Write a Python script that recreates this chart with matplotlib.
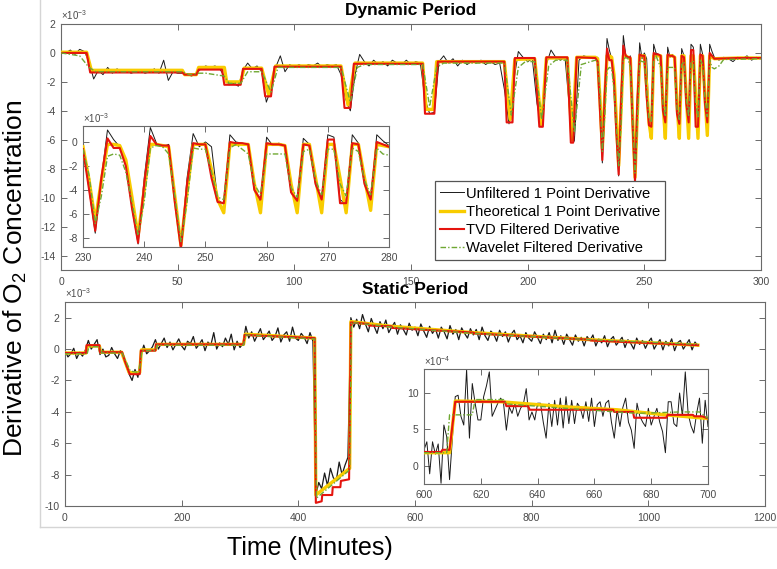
import numpy as np
import matplotlib
matplotlib.use("Agg")
import matplotlib.pyplot as plt
from matplotlib.lines import Line2D

plt.rcParams['font.family'] = ['Liberation Sans', 'DejaVu Sans']
plt.rcParams['mathtext.fontset'] = 'custom'
plt.rcParams['mathtext.rm'] = 'Liberation Sans'
plt.rcParams['mathtext.it'] = 'Liberation Sans:italic'
plt.rcParams['mathtext.bf'] = 'Liberation Sans:bold'
plt.rcParams['axes.unicode_minus'] = False

# ---------------- Dynamic period (values x1e-3) ----------------
# unfiltered, every 2 min from 0 to 228
dyn_unf_t = np.arange(0, 229, 2)
dyn_unf = [0.1, 0.0, 0.2, -0.1, 0.25, 0.1, -0.6, -1.8, -1.2, -1.5,
           -1.0, -1.4, -1.1, -1.3, -1.2, -1.4, -1.3, -1.2, -1.4, -1.3,
           -1.1, -1.4, -0.5, -1.9, -1.3, -1.4, -1.4, -1.5, -1.6, -1.4,
           -1.1, -0.9, -1.0, -0.9, -1.1, -1.6, -2.2, -2.1, -2.3, -1.2,
           -0.7, -1.1, -0.9, -1.3, -3.4, -2.5, -1.0, -0.2, -1.3, -0.8,
           -1.0, -0.8, -1.0, -0.8, -0.9, -0.7, -1.0, -0.8, -0.9, -0.8,
           -1.5, -3.2, -4.0, -1.5, -0.1, -0.6, -0.9, -0.5, -0.8, -0.6,
           -0.9, -0.5, -0.7, -0.8, -0.5, -0.8, -0.6, -0.7, -3.2, -4.2,
           -4.1, -0.6, -0.2, -0.7, -0.4, -0.9, -0.5, -0.8, -0.6, -0.7,
           -0.5, -0.8, -0.6, -0.8, -0.7, -2.5, -4.9, -2.0, 0.1, -0.3,
           -0.6, -0.4, -3.5, -5.1, -0.8, 0.2, -0.3, -0.5, -0.3, -4.0,
           -6.1, -0.5, -0.2, -0.3, -0.4]
dyn_unf_tail_t = np.arange(282, 301, 2)
dyn_unf_tail = [-0.5, -0.3, -0.4, -0.6, -0.3, -0.4, -0.2, -0.5, -0.3, -0.4]

dyn_theo_t = [0, 11, 13, 52, 53, 58, 59, 70, 71, 77, 78.5, 86, 89, 92, 120, 123, 126,
              155, 156.5, 159.5, 161, 190, 192.5, 194.5, 203, 206, 208, 217, 219, 221, 229]
dyn_theo = [0.05, 0.05, -1.2, -1.2, -1.5, -1.5, -1.0, -1.0, -2.0, -2.0, -1.05, -1.05, -2.9,
            -0.9, -0.9, -3.6, -0.7, -0.7, -3.9, -3.9, -0.6, -0.6, -4.6, -0.45, -0.4, -5.0,
            -0.35, -0.35, -6.0, -0.3, -0.3]

dyn_tvd_t = [0, 11, 12.5, 52, 53, 58, 59, 69, 70, 77, 78, 86, 87.5, 90, 91.5, 120, 121.5, 124,
             125.5, 155, 156, 160, 161.5, 190, 191, 193.5, 194.5, 203, 205, 206.5, 208, 217,
             218.5, 219.5, 221, 229]
dyn_tvd = [0.0, 0.0, -1.35, -1.35, -1.5, -1.5, -1.15, -1.15, -2.2, -2.2, -1.1, -1.1, -3.0,
           -3.0, -0.95, -0.95, -3.8, -3.8, -0.75, -0.75, -4.2, -4.2, -0.6, -0.6, -4.8, -4.8,
           -0.35, -0.35, -5.1, -5.1, -0.3, -0.3, -6.2, -6.2, -0.3, -0.35]

dyn_wav_t = [0, 8, 12, 15, 52, 55, 59, 62, 70, 72, 77, 80, 86, 90, 93, 120, 124, 127, 130,
             155, 158, 161, 164, 190, 193, 196, 199, 203, 206, 209, 212, 217, 220, 223, 229]
dyn_wav = [0.0, -0.2, -1.0, -1.3, -1.3, -1.5, -1.4, -1.4, -1.6, -2.1, -2.1, -1.3, -1.3, -2.7,
           -1.0, -1.0, -3.4, -1.0, -0.8, -0.8, -3.7, -1.0, -0.7, -0.7, -4.3, -1.0, -0.6, -0.6,
           -4.6, -0.9, -0.5, -0.5, -5.5, -0.8, -0.5]

tail_t = [290, 300]
dyn_theo_tail = [-0.35, -0.35]
dyn_tvd_tail = [-0.35, -0.35]
dyn_wav_tail_t = [282, 284, 300]
dyn_wav_tail = [-0.9, -0.45, -0.4]

# zoomed window 230-280, one value per minute
zoom_t = np.arange(230, 281)
zoom_unf = [-0.3, -4.0, -7.6, -3.0, 1.0, 0.2, -0.4, -1.8, -5.5, -8.5,
            -3.0, 1.2, -0.1, -0.4, -0.2, -5.0, -8.8, -3.0, 0.7, -0.4,
            0.0, -0.4, -4.8, -5.2, 0.6, 0.0, -0.1, -0.2, -4.0, -5.0,
            0.4, -0.3, -0.1, -0.3, -4.2, -5.0, 0.3, -0.2, -3.5, -5.0,
            0.6, 0.4, -4.8, -5.2, 0.6, -0.1, -3.5, -5.0, 0.6, 0.1, -0.3]
zoom_theo = [-0.4, -3.2, -6.6, -3.2, -0.2, -0.2, -0.3, -1.5, -4.6, -7.8,
             -4.0, -0.2, -0.2, -0.3, -0.4, -4.5, -8.6, -4.2, -0.2, -0.2,
             -0.2, -2.3, -4.8, -5.9, -0.2, -0.2, -0.2, -0.2, -3.5, -5.9,
             -0.2, -0.2, -0.2, -0.3, -3.5, -5.9, -0.2, -0.2, -3.0, -5.9,
             -0.2, -0.2, -3.0, -5.9, -0.2, -0.2, -3.0, -5.7, -0.2, -0.3, -0.4]
zoom_tvd = [-0.6, -4.0, -7.4, -3.0, 0.3, -0.5, -0.5, -2.0, -5.5, -8.4,
            -3.5, 0.5, -0.2, -0.3, -0.3, -5.0, -8.9, -3.5, -0.1, -0.2,
            -0.2, -3.0, -5.0, -5.1, 0.0, -0.1, -0.1, -0.2, -4.0, -4.8,
            -0.1, -0.2, -0.2, -0.3, -4.2, -4.9, -0.2, -0.3, -3.5, -4.8,
            0.2, 0.2, -5.1, -5.1, -0.1, -0.2, -3.5, -4.8, 0.0, -0.2, -0.4]
zoom_wav = [-0.6, -2.8, -6.8, -4.5, -1.2, -1.0, -1.1, -2.5, -5.0, -7.8,
            -5.0, -0.5, -0.3, -0.4, -1.0, -4.5, -8.3, -5.0, -0.5, -0.6,
            -0.6, -2.5, -4.6, -4.8, -0.5, -0.2, -0.6, -1.0, -3.5, -4.4,
            -1.0, -1.0, -1.0, -1.0, -3.8, -4.6, -0.8, -0.6, -3.2, -4.4,
            -0.6, -0.6, -3.5, -4.5, -0.5, -0.8, -3.2, -4.4, -0.5, -1.0, -1.1]

# ---------------- Static period (values x1e-3) ----------------
stat_unf_t = np.arange(0, 1086, 5)
stat_unf = [-0.1, -0.5, -0.3, 0.05, -0.6, -0.2, -0.45, -0.05, 0.55, 0.0,
            0.3, 0.6, -0.35, 0.0, -0.5, -0.4, 0.1, -0.3, -0.6, -0.1,
            -0.5, -1.1, -1.6, -2.0, -1.3, -1.8, -0.4, 0.25, -0.3, -0.1,
            0.15, 0.6, 0.0, 0.35, 0.7, 0.1, 0.45, -0.05, 0.3, 0.65,
            0.2, -0.05, 0.5, 0.35, 0.8, 0.05, 0.3, 0.6, -0.1, 0.45,
            0.25, 1.05, 0.0, 0.4, 0.15, 0.7, 0.3, 0.95, -0.05, 0.5,
            0.1, 0.35, 1.45, 0.7, 1.1, 0.5, 0.9, 1.3, 0.6, 0.85,
            1.15, 0.55, 0.8, 1.35, 0.45, 0.9, 1.1, 0.5, 1.4, 0.7,
            0.55, 1.0, 0.75, 0.35, 1.05, 0.5, -9.3, -8.5, -8.9, -7.9,
            -8.7, -7.6, -8.2, -8.4, -7.2, -8.0, -7.4, -6.9, 2.0, 1.4,
            1.9, 1.3, 2.2, 1.6, 1.1, 1.95, 1.45, 1.0, 1.75, 1.3,
            1.85, 1.05, 1.4, 1.7, 0.95, 1.55, 1.25, 0.9, 1.65, 1.2,
            1.4, 0.85, 1.6, 1.15, 0.75, 1.45, 1.0, 1.3, 0.7, 1.4,
            1.1, 0.65, 1.5, 0.95, 1.25, 0.6, 1.35, 1.0, 0.7, 1.3,
            0.9, 1.25, 0.6, 1.4, 0.85, 0.55, 1.15, 0.95, 0.5, 1.2,
            0.8, 1.1, 0.45, 0.95, 1.2, 0.6, 0.85, 0.4, 1.05, 0.7,
            0.5, 1.1, 0.75, 0.35, 0.95, 0.6, 1.05, 0.4, 1.2, 0.55,
            0.85, 0.3, 0.95, 0.6, 0.25, 0.9, 0.5, 0.75, 0.2, 0.8,
            0.55, 0.9, 0.2, 0.65, 0.4, 0.85, 0.15, 0.6, 0.8, 0.25,
            0.5, 0.75, 0.1, 0.6, 0.35, 0.0, 0.7, 0.3, 0.55, 0.05,
            0.45, 0.7, 0.0, 0.35, 0.6, -0.05, 0.5, 0.2, 0.65, -0.1,
            0.4, 0.55, 0.0, 0.3, 0.6, -0.05, 0.45, 0.2]

stat_theo_t = [0, 36, 38, 59, 61, 97, 110, 128, 131, 155, 157, 306, 309, 428, 430, 488, 490,
               560, 700, 900, 1085]
stat_theo = [-0.25, -0.25, 0.2, 0.2, -0.2, -0.2, -1.5, -1.5, -0.05, -0.05, 0.3, 0.3, 0.95,
             0.7, -9.3, -7.6, 1.75, 1.45, 1.05, 0.6, 0.25]

stat_tvd_t = [0, 36, 37, 59, 60, 98, 103, 111, 128, 130, 155, 156, 306, 308, 428, 430, 440,
              441, 458, 459, 472, 473, 487, 490, 520, 521, 560, 561, 700, 701, 900, 901, 1085]
stat_tvd = [-0.25, -0.25, 0.25, 0.25, -0.2, -0.2, -0.8, -1.6, -1.6, -0.1, -0.1, 0.3, 0.3,
            0.9, 0.7, -9.8, -9.7, -9.3, -9.3, -8.8, -8.8, -8.4, -8.3, 1.7, 1.6, 1.5, 1.45,
            1.35, 1.05, 1.0, 0.6, 0.55, 0.25]

stat_wav_t = [0, 38, 41, 60, 63, 98, 112, 127, 132, 155, 158, 306, 310, 428, 431, 488, 491,
              560, 700, 900, 1085]
stat_wav = [-0.3, -0.3, 0.15, 0.15, -0.25, -0.25, -1.4, -1.5, -0.1, -0.1, 0.25, 0.25, 0.9,
            0.65, -9.5, -7.7, 1.7, 1.4, 1.0, 0.6, 0.3]

# zoomed window 600-700 (values x1e-4)
szoom_t = np.arange(600, 701)
szoom_unf = [2.2, 3.3, -1.1, 3.3, 1.6, 3.0, -2.4, 5.6, 4.0, -1.9,
             3.8, 9.5, 9.7, 6.8, 5.6, 13.2, 3.8, 11.3, 8.6, 6.3,
             6.3, 9.5, 11.0, 12.9, 6.8, 7.7, 8.6, 9.3, 8.6, 4.9,
             8.1, 7.2, 8.6, 6.8, 7.9, 8.5, 10.6, 6.3, 7.4, 6.3,
             8.6, 8.6, 6.0, 3.8, 8.6, 5.4, 9.0, 5.6, 9.3, 5.2,
             9.5, 5.8, 9.0, 5.8, 8.6, 8.0, 6.5, 8.8, 6.1, 9.3,
             5.4, 8.4, 8.8, 6.8, 8.6, 9.0, 6.0, 3.8, 7.7, 5.4,
             8.0, 9.3, 6.0, 4.9, 2.4, 8.6, 6.8, 6.0, 5.4, 7.9,
             5.6, 6.8, 7.9, 6.0, 4.7, 1.8, 8.8, 8.8, 5.8, 5.4,
             10.0, 6.8, 12.9, 7.2, 5.5, 4.5, 7.2, 9.3, 3.1, 9.0,
             5.4]
szoom_theo_t = [600, 609, 611, 627, 650, 668, 685, 700]
szoom_theo = [1.8, 1.8, 8.9, 8.8, 8.1, 7.7, 7.0, 6.5]
szoom_tvd_t = [600, 606, 606.5, 609, 611, 628.5, 629, 636.7, 637.2, 666.6, 667, 673.6, 674,
               685.3, 685.8, 694.7, 695.2, 698, 700]
szoom_tvd = [1.9, 1.9, 2.2, 2.2, 8.8, 8.8, 8.2, 8.2, 7.7, 7.7, 7.4, 7.4, 6.6, 6.6, 7.0, 7.0,
             6.8, 6.8, 6.5]
szoom_wav_t = [600, 608, 609, 617, 618, 628, 629, 650, 675, 690, 697, 700]
szoom_wav = [1.8, 1.8, 7.0, 7.0, 9.1, 9.1, 8.5, 7.9, 7.2, 7.4, 7.4, 6.5]

# colours / styles
c_unf = '#1a1a1a'
c_theo = '#f8cc00'
c_tvd = '#e5140e'
c_wav = '#6fa832'
wav_ls = (0, (4, 1.5, 1, 1.5))
tick_col = '#4a4a4a'
spine_col = '#6a6a6a'


def style_axes(ax, fs=7.5):
    ax.tick_params(direction='in', top=True, right=True, length=4, width=0.7,
                   colors=spine_col, labelcolor=tick_col, labelsize=fs, pad=4)
    for s in ax.spines.values():
        s.set_color(spine_col)
        s.set_linewidth(0.8)


def draw(ax, t_u, u, t_th, th, t_tv, tv, t_wv, wv, lw_u=0.7):
    ax.plot(t_u, u, color=c_unf, lw=lw_u, label='Unfiltered 1 Point Derivative', zorder=2)
    ax.plot(t_th, th, color=c_theo, lw=2.4, label='Theoretical 1 Point Derivative', zorder=3)
    ax.plot(t_tv, tv, color=c_tvd, lw=1.5, label='TVD Filtered Derivative', zorder=4)
    ax.plot(t_wv, wv, color=c_wav, lw=1.0, ls=wav_ls, label='Wavelet Filtered Derivative', zorder=5)


W, H = 777, 569
fig = plt.figure(figsize=(W / 100, H / 100), dpi=100)


def fax(l, r, t, b):
    return [l / W, 1 - b / H, (r - l) / W, (b - t) / H]


# top main
ax1 = fig.add_axes(fax(61, 761, 24, 270))
draw(ax1,
     np.concatenate([dyn_unf_t, zoom_t, dyn_unf_tail_t]), dyn_unf + zoom_unf + dyn_unf_tail,
     np.concatenate([dyn_theo_t, zoom_t, tail_t]), dyn_theo + zoom_theo + dyn_theo_tail,
     np.concatenate([dyn_tvd_t, zoom_t, tail_t]), dyn_tvd + zoom_tvd + dyn_tvd_tail,
     np.concatenate([dyn_wav_t, zoom_t, dyn_wav_tail_t]), dyn_wav + zoom_wav + dyn_wav_tail)
ax1.set_xlim(0, 300)
ax1.set_ylim(-15, 2)
ax1.set_xticks(range(0, 301, 50))
ax1.set_yticks(range(-14, 3, 2))
style_axes(ax1)
ax1.tick_params(axis='x', pad=5)
ax1.text(0.0, 1.01, r'$\times$10$^{-3}$', transform=ax1.transAxes, fontsize=7,
         color=tick_col, ha='left', va='bottom')
leg = ax1.legend(loc='lower left', bbox_to_anchor=(0.534, 0.04), fontsize=10.6,
                 frameon=True, fancybox=False, framealpha=1, edgecolor='#555555',
                 handlelength=1.6, handletextpad=0.15, labelspacing=0.28,
                 borderpad=0.35, borderaxespad=0)
leg.get_frame().set_linewidth(0.9)
leg.set_zorder(10)

# top inset
ax1i = fig.add_axes(fax(83, 389, 126, 247))
draw(ax1i, zoom_t, zoom_unf, zoom_t, zoom_theo, zoom_t, zoom_tvd, zoom_t, zoom_wav)
ax1i.set_xlim(230, 280)
ax1i.set_ylim(-8.75, 1.33)
ax1i.set_xticks(range(230, 281, 10))
ax1i.set_yticks(range(-8, 1, 2))
style_axes(ax1i)
ax1i.text(0.0, 1.01, r'$\times$10$^{-3}$', transform=ax1i.transAxes, fontsize=7,
          color=tick_col, ha='left', va='bottom')

# bottom main
ax2 = fig.add_axes(fax(65, 765, 302, 506))
draw(ax2, stat_unf_t, stat_unf, stat_theo_t, stat_theo, stat_tvd_t, stat_tvd,
     stat_wav_t, stat_wav, lw_u=0.9)
ax2.set_xlim(0, 1200)
ax2.set_ylim(-10, 3)
ax2.set_xticks(range(0, 1201, 200))
ax2.set_yticks(range(-10, 3, 2))
style_axes(ax2)
ax2.tick_params(axis='x', pad=5)
ax2.text(0.0, 1.01, r'$\times$10$^{-3}$', transform=ax2.transAxes, fontsize=7,
         color=tick_col, ha='left', va='bottom')

# bottom inset
ax2i = fig.add_axes(fax(424, 708, 369, 484))
draw(ax2i, szoom_t, szoom_unf, szoom_theo_t, szoom_theo, szoom_tvd_t, szoom_tvd,
     szoom_wav_t, szoom_wav)
ax2i.set_xlim(600, 700)
ax2i.set_ylim(-2.5, 13.3)
ax2i.set_xticks(range(600, 701, 20))
ax2i.set_yticks([0, 5, 10])
style_axes(ax2i)
ax2i.text(0.0, 1.01, r'$\times$10$^{-4}$', transform=ax2i.transAxes, fontsize=7,
          color=tick_col, ha='left', va='bottom')

# titles and labels
fig.text(411 / W, 1 - 10 / H, 'Dynamic Period', fontsize=12.5, fontweight='bold',
         ha='center', va='center')
fig.text(415 / W, 1 - 290 / H, 'Static Period', fontsize=12.5, fontweight='bold',
         ha='center', va='center')
fig.text(310 / W, 1 - 548 / H, 'Time (Minutes)', fontsize=18, ha='center', va='center')
fig.text(15 / W, 1 - 278 / H, r'Derivative of O$_2$ Concentration', fontsize=19,
         rotation=90, ha='center', va='center')

# light frame of the pasted figure
fig.add_artist(Line2D([40 / W, 40 / W], [1, 1 - 527 / H], transform=fig.transFigure,
                      color='#d5d5d5', lw=1))
fig.add_artist(Line2D([40 / W, 1], [1 - 527 / H, 1 - 527 / H], transform=fig.transFigure,
                      color='#d5d5d5', lw=1))

fig.savefig('out.png', dpi=100)
